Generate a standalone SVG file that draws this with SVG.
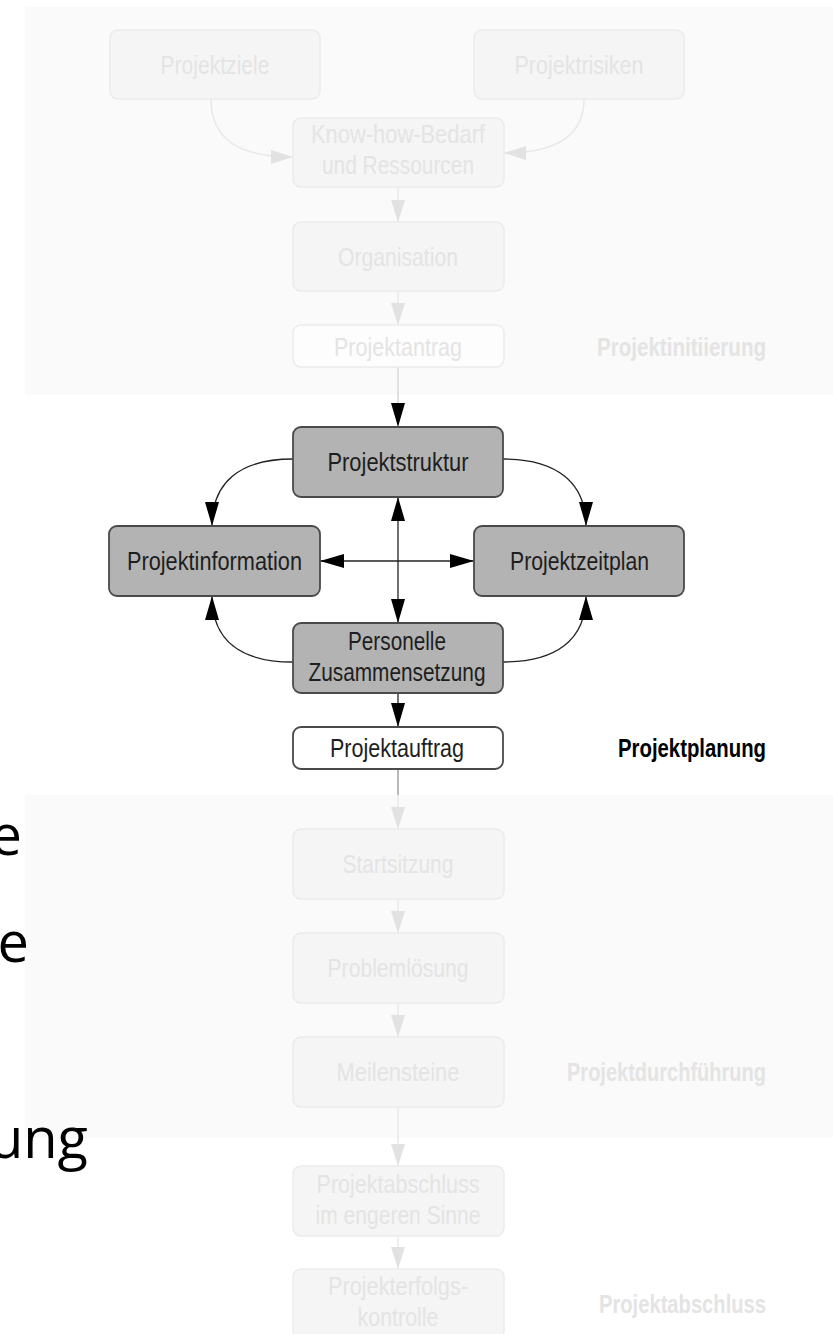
<svg xmlns="http://www.w3.org/2000/svg" width="833" height="1334" viewBox="0 0 833 1334">
<defs>
<style>
.t{font-family:"Liberation Sans",Arial,sans-serif;font-size:26px;text-anchor:middle}
.fb{fill:#f5f5f5;stroke:#ebebeb;stroke-width:1.5}
.ft{fill:#e4e4e4}
.mb{fill:#b3b3b3;stroke:#4a4a4a;stroke-width:1.8}
.mw{fill:#ffffff;stroke:#4a4a4a;stroke-width:1.8}
.mt{fill:#1e1e1e}
.lab{font-family:"Liberation Sans",Arial,sans-serif;font-size:25px;font-weight:bold;text-anchor:end}
.fc{fill:none;stroke:#e8e8e8;stroke-width:1.5}
.dc{fill:none;stroke:#222;stroke-width:1.3}
.big{font-family:"Open Sans","Liberation Sans",sans-serif;font-size:56px;fill:#000}
</style>
<marker id="fa" markerUnits="userSpaceOnUse" markerWidth="22" markerHeight="14" refX="22" refY="7" orient="auto">
<path d="M0,0 L22,7 L0,14 z" fill="#e2e2e2"/>
</marker>
<marker id="da" markerUnits="userSpaceOnUse" markerWidth="24" markerHeight="14" refX="24" refY="7" orient="auto-start-reverse">
<path d="M0,0 L24,7 L0,14 z" fill="#000"/>
</marker>
</defs>
<rect width="833" height="1334" fill="#ffffff"/>
<rect id="panel-initiierung" x="25" y="7" width="808" height="388" fill="#fafafa"/>
<rect id="panel-durchfuehrung" x="25" y="795" width="808" height="343" fill="#fafafa"/>

<g id="left-text">
<text class="big" x="22" y="855" text-anchor="end">e</text>
<text class="big" x="29" y="962" text-anchor="end">e</text>
<text class="big" x="88" y="1158" text-anchor="end">ung</text>
</g>

<g id="connectors">
<path class="fc" d="M211,99 C211,140 240,157 293,157" marker-end="url(#fa)"/>
<path class="fc" d="M584,99 C584,136 556,153 504,153" marker-end="url(#fa)"/>
<path class="fc" d="M398,187 L398,222" marker-end="url(#fa)"/>
<path class="fc" d="M398,291 L398,325" marker-end="url(#fa)"/>
<path fill="none" stroke="#cfcfcf" stroke-width="1.2" d="M398,367 L398,427" marker-end="url(#da)"/>
<path class="dc" d="M293,459 C240,459 212,482 212,526" marker-end="url(#da)"/>
<path class="dc" d="M503,459 C556,459 586,482 586,526" marker-end="url(#da)"/>
<path class="dc" d="M293,662 C240,662 212,640 212,596" marker-end="url(#da)"/>
<path class="dc" d="M503,662 C556,662 586,640 586,596" marker-end="url(#da)"/>
<path class="dc" d="M398,497 L398,623" marker-start="url(#da)" marker-end="url(#da)"/>
<path class="dc" d="M320,561 L474,561" marker-start="url(#da)" marker-end="url(#da)"/>
<path class="dc" d="M398,693 L398,727" marker-end="url(#da)"/>
<path fill="none" stroke="#8a8a8a" stroke-width="1.2" d="M398,769 L398,795"/>
<path class="fc" d="M398,795 L398,829" marker-end="url(#fa)"/>
<path class="fc" d="M398,899 L398,933" marker-end="url(#fa)"/>
<path class="fc" d="M398,1003 L398,1037" marker-end="url(#fa)"/>
<path class="fc" d="M398,1107 L398,1166" marker-end="url(#fa)"/>
<path class="fc" d="M398,1236 L398,1269" marker-end="url(#fa)"/>
</g>

<g id="projektziele"><rect class="fb" x="110" y="30" width="210" height="69" rx="8"/><text class="t ft" x="215" y="74" textLength="109" lengthAdjust="spacingAndGlyphs">Projektziele</text></g>
<g id="projektrisiken"><rect class="fb" x="474" y="30" width="210" height="69" rx="8"/><text class="t ft" x="579" y="74" textLength="129" lengthAdjust="spacingAndGlyphs">Projektrisiken</text></g>
<g id="knowhow"><rect class="fb" x="293" y="118" width="211" height="69" rx="8"/><text class="t ft" x="398" y="143" textLength="174" lengthAdjust="spacingAndGlyphs">Know-how-Bedarf</text><text class="t ft" x="398" y="174" textLength="152" lengthAdjust="spacingAndGlyphs">und Ressourcen</text></g>
<g id="organisation"><rect class="fb" x="293" y="222" width="211" height="69" rx="8"/><text class="t ft" x="398" y="266" textLength="120" lengthAdjust="spacingAndGlyphs">Organisation</text></g>
<g id="projektantrag"><rect x="293" y="325" width="211" height="42" rx="8" fill="#fdfdfd" stroke="#ebebeb" stroke-width="1.5"/><text class="t ft" x="398" y="356" textLength="128" lengthAdjust="spacingAndGlyphs">Projektantrag</text></g>
<g id="label-initiierung"><text class="lab ft" x="766" y="356" textLength="169" lengthAdjust="spacingAndGlyphs">Projektinitiierung</text></g>

<g id="projektstruktur"><rect class="mb" x="293" y="427" width="210" height="70" rx="8"/><text class="t mt" x="398" y="471" textLength="141" lengthAdjust="spacingAndGlyphs">Projektstruktur</text></g>
<g id="projektinformation"><rect class="mb" x="109" y="526" width="211" height="70" rx="8"/><text class="t mt" x="214.5" y="570" textLength="175" lengthAdjust="spacingAndGlyphs">Projektinformation</text></g>
<g id="projektzeitplan"><rect class="mb" x="474" y="526" width="210" height="70" rx="8"/><text class="t mt" x="579.5" y="570" textLength="139" lengthAdjust="spacingAndGlyphs">Projektzeitplan</text></g>
<g id="personelle"><rect class="mb" x="293" y="623" width="210" height="70" rx="8"/><text class="t mt" x="397" y="650" textLength="98" lengthAdjust="spacingAndGlyphs">Personelle</text><text class="t mt" x="397" y="681" textLength="177" lengthAdjust="spacingAndGlyphs">Zusammensetzung</text></g>
<g id="projektauftrag"><rect class="mw" x="293" y="727" width="210" height="42" rx="8"/><text class="t mt" x="397" y="757" textLength="134" lengthAdjust="spacingAndGlyphs">Projektauftrag</text></g>
<g id="label-planung"><text class="lab" x="766" y="757" fill="#000" textLength="148" lengthAdjust="spacingAndGlyphs">Projektplanung</text></g>

<g id="startsitzung"><rect class="fb" x="293" y="829" width="211" height="70" rx="8"/><text class="t ft" x="398" y="873" textLength="111" lengthAdjust="spacingAndGlyphs">Startsitzung</text></g>
<g id="problemloesung"><rect class="fb" x="293" y="933" width="211" height="70" rx="8"/><text class="t ft" x="398" y="977" textLength="141" lengthAdjust="spacingAndGlyphs">Problemlösung</text></g>
<g id="meilensteine"><rect class="fb" x="293" y="1037" width="211" height="70" rx="8"/><text class="t ft" x="398" y="1081" textLength="123" lengthAdjust="spacingAndGlyphs">Meilensteine</text></g>
<g id="label-durchfuehrung"><text class="lab ft" x="766" y="1081" textLength="199" lengthAdjust="spacingAndGlyphs">Projektdurchführung</text></g>

<g id="projektabschluss-ies"><rect class="fb" x="293" y="1166" width="211" height="70" rx="8"/><text class="t ft" x="398" y="1193" textLength="163" lengthAdjust="spacingAndGlyphs">Projektabschluss</text><text class="t ft" x="398" y="1224" textLength="165" lengthAdjust="spacingAndGlyphs">im engeren Sinne</text></g>
<g id="projekterfolgskontrolle"><rect class="fb" x="293" y="1269" width="211" height="70" rx="8"/><text class="t ft" x="398" y="1295" textLength="140" lengthAdjust="spacingAndGlyphs">Projekterfolgs-</text><text class="t ft" x="398" y="1326" textLength="81" lengthAdjust="spacingAndGlyphs">kontrolle</text></g>
<g id="label-abschluss"><text class="lab ft" x="766" y="1313" textLength="167" lengthAdjust="spacingAndGlyphs">Projektabschluss</text></g>
</svg>
